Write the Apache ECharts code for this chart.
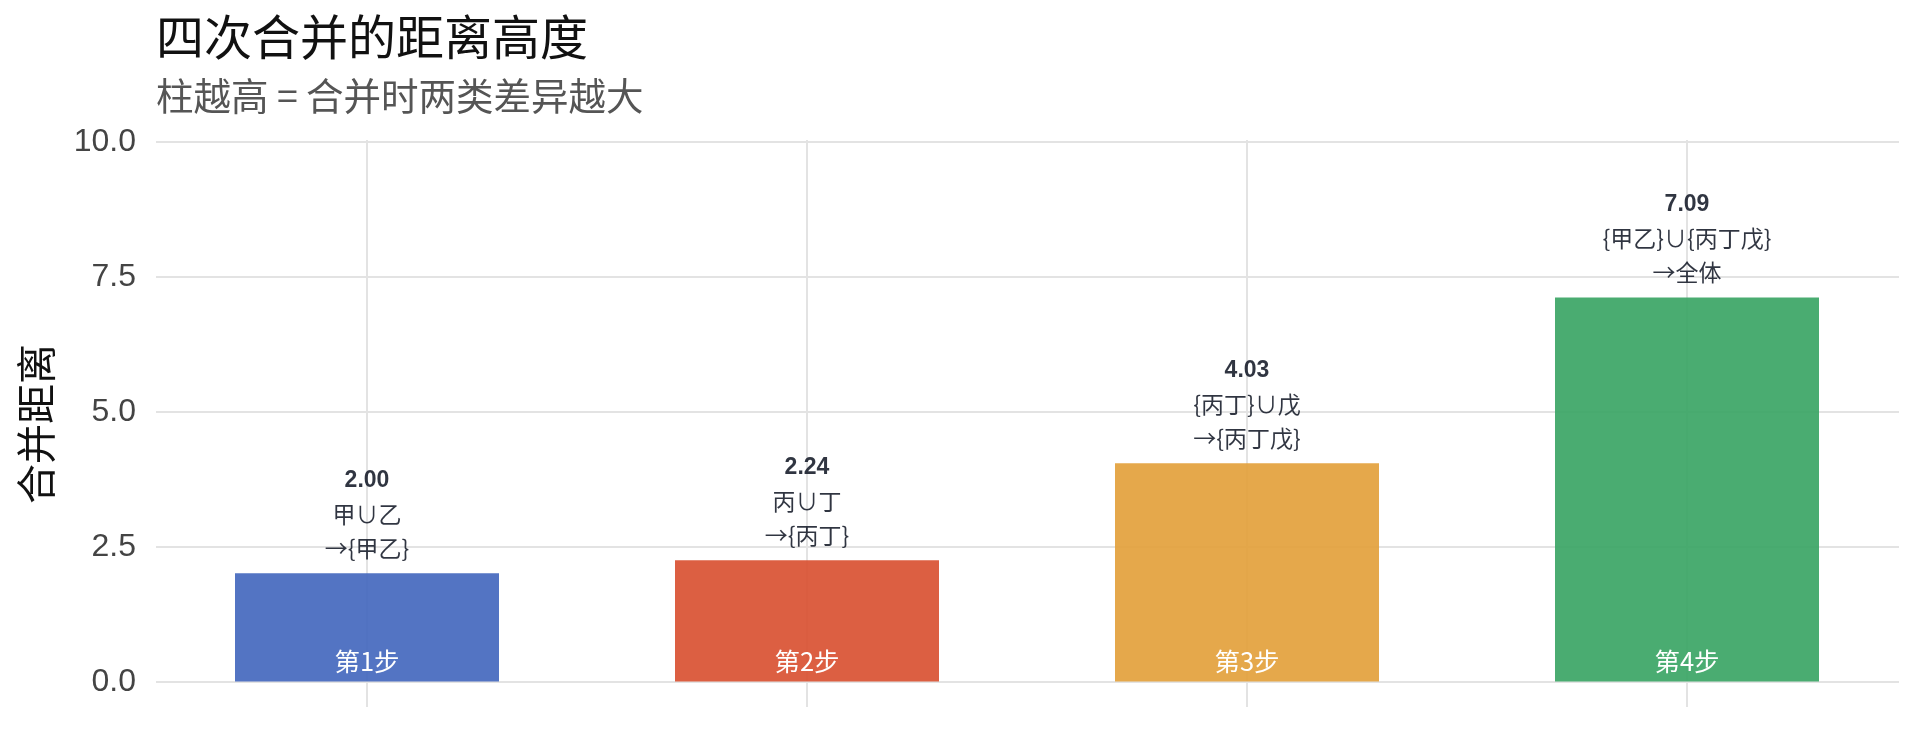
<!DOCTYPE html>
<html><head><meta charset="utf-8">
<script src="https://cdn.jsdelivr.net/npm/echarts@6/dist/echarts.min.js"></script>
<style>html,body{margin:0;padding:0;background:#fff}#c{width:1920px;height:729px}</style>
</head><body><div id="c"></div>
<script>
const categories = ['第1步', '第2步', '第3步', '第4步'];
const distances = [2.00, 2.24, 4.03, 7.09];
const mergeOps = ['甲∪乙', '丙∪丁', '{丙丁}∪戊', '{甲乙}∪{丙丁戊}'];
const mergeResults = ['{甲乙}', '{丙丁}', '{丙丁戊}', '全体'];
const barColors = ['#4065BD', '#D84E2D', '#E29E37', '#36A362'];
const yTickLabels = ['0.0', '2.5', '5.0', '7.5', '10.0'];

const chart = echarts.init(document.getElementById('c'));
const gridColor = '#e3e3e3';
const cjk = '"Noto Sans CJK SC", sans-serif';
chart.setOption({
  animation: false,
  backgroundColor: '#fff',
  title: {
    text: '四次合并的距离高度',
    subtext: '柱越高 = 合并时两类差异越大',
    left: 156, top: 13, padding: 0, itemGap: 16,
    textStyle: { fontSize: 48, fontWeight: 'normal', color: '#111', fontFamily: cjk },
    subtextStyle: { fontSize: 37.5, color: '#555', fontFamily: cjk }
  },
  graphic: [{
    type: 'text', x: 36, y: 424, rotation: Math.PI / 2,
    style: { text: '合并距离', font: '40px "Noto Sans CJK SC"', fill: '#111', textAlign: 'center', textVerticalAlign: 'middle' }
  }],
  grid: [
    { left: 147, right: 13, top: 140, bottom: 22 },
    { left: 156, right: 21, top: 141.7, bottom: 47.3 }
  ],
  xAxis: [
    {
      gridIndex: 0, type: 'category', data: categories, position: 'bottom',
      axisLine: { show: false, onZero: false }, axisTick: { show: false }, axisLabel: { show: false },
      splitLine: { show: true, alignWithLabel: true, lineStyle: { color: gridColor, width: 2 } }
    },
    { gridIndex: 1, type: 'value', min: 0, max: 1, show: false }
  ],
  yAxis: [
    { gridIndex: 0, type: 'value', min: -0.47, max: 10, show: false },
    {
      gridIndex: 1, type: 'value', min: 0, max: 10, interval: 2.5,
      axisLine: { show: false }, axisTick: { show: false },
      splitLine: { show: true, lineStyle: { color: gridColor, width: 2 } },
      axisLabel: {
        margin: 20, fontSize: 32, color: '#444', fontFamily: '"Liberation Sans", Arial, sans-serif',
        formatter: (v) => yTickLabels[Math.round(v / 2.5)]
      }
    }
  ],
  series: [
    {
      type: 'bar', xAxisIndex: 0, yAxisIndex: 0, barWidth: '60%', barGap: '-100%',
      data: distances.map((v, i) => ({ value: v, itemStyle: { color: barColors[i], opacity: 0.9 } })),
      label: {
        show: true, position: 'top', distance: 8,
        fontSize: 23, lineHeight: 34, color: '#1a1f2c', fontFamily: cjk,
        formatter: (p) => '{v|' + distances[p.dataIndex].toFixed(2) + '}\n' + mergeOps[p.dataIndex] + '\n→' + mergeResults[p.dataIndex],
        rich: { v: { fontWeight: 'bold', fontSize: 23, lineHeight: 34, color: '#1a1f2c', fontFamily: '"Liberation Sans", Arial, sans-serif' } }
      }
    },
    {
      type: 'bar', xAxisIndex: 0, yAxisIndex: 0, barWidth: '60%', barGap: '-100%', silent: true, z: 3,
      data: distances,
      itemStyle: { color: 'rgba(0,0,0,0)' },
      label: {
        show: true, position: 'insideBottom', distance: 7,
        color: '#fff', fontSize: 25.5, fontFamily: cjk,
        formatter: (p) => categories[p.dataIndex]
      }
    },
    { type: 'line', xAxisIndex: 1, yAxisIndex: 1, data: [], silent: true }
  ]
});
</script>
</body></html>
